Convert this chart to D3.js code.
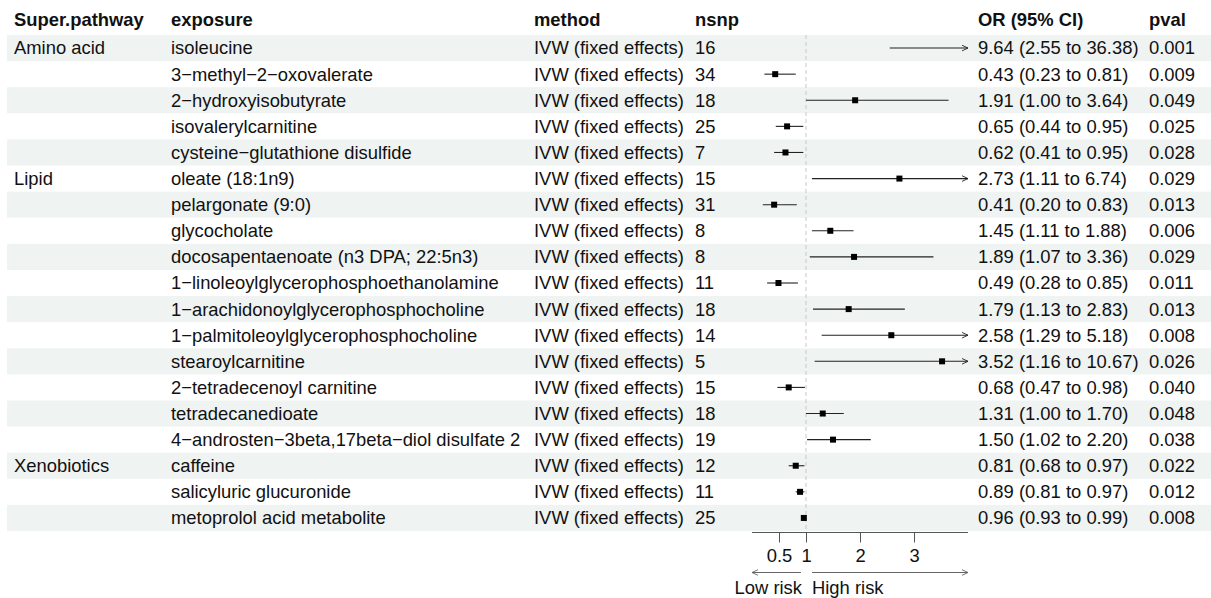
<!DOCTYPE html>
<html>
<head>
<meta charset="utf-8">
<script src="https://cdn.jsdelivr.net/npm/d3@7"></script>
<style>
  html, body { margin: 0; padding: 0; background: #fff; }
  svg text { font-family: "Liberation Sans", Arial, Helvetica, sans-serif; }
</style>
</head>
<body>
<svg id="chart" width="1211" height="598"></svg>
<script>
const pathway = ["Amino acid","","","","","Lipid","","","","","","","","","","","Xenobiotics","",""];
const exposure = ["isoleucine","3\u2212methyl\u22122\u2212oxovalerate","2\u2212hydroxyisobutyrate","isovalerylcarnitine","cysteine\u2212glutathione disulfide","oleate (18:1n9)","pelargonate (9:0)","glycocholate","docosapentaenoate (n3 DPA; 22:5n3)","1\u2212linoleoylglycerophosphoethanolamine","1\u2212arachidonoylglycerophosphocholine","1\u2212palmitoleoylglycerophosphocholine","stearoylcarnitine","2\u2212tetradecenoyl carnitine","tetradecanedioate","4\u2212androsten\u22123beta,17beta\u2212diol disulfate 2","caffeine","salicyluric glucuronide","metoprolol acid metabolite"];
const method = Array(19).fill("IVW (fixed effects)");
const nsnp = [16,34,18,25,7,15,31,8,8,11,18,14,5,15,18,19,12,11,25];
const orv = [9.64,0.43,1.91,0.65,0.62,2.73,0.41,1.45,1.89,0.49,1.79,2.58,3.52,0.68,1.31,1.50,0.81,0.89,0.96];
const lower = [2.55,0.23,1.00,0.44,0.41,1.11,0.20,1.11,1.07,0.28,1.13,1.29,1.16,0.47,1.00,1.02,0.68,0.81,0.93];
const upper = [36.38,0.81,3.64,0.95,0.95,6.74,0.83,1.88,3.36,0.85,2.83,5.18,10.67,0.98,1.70,2.20,0.97,0.97,0.99];
const pval = ["0.001","0.009","0.049","0.025","0.028","0.029","0.013","0.006","0.029","0.011","0.013","0.008","0.026","0.040","0.048","0.038","0.022","0.012","0.008"];
const headers = ["Super.pathway","exposure","method","nsnp","","OR (95% CI)","pval"];
const xTicks = [0.5, 1, 2, 3];
const xDomain = [0, 4];

const svg = d3.select("#chart");
const FS = "18.4px";
const n = exposure.length;
const rows = d3.range(n);

const y = d3.scaleBand().domain(rows).range([35, 531]).padding(0);
const x = d3.scaleLinear().domain(xDomain).range([752, 968]);
const colX = [14, 171, 534, 695, null, 978, 1149];

// defs
const defs = svg.append("defs");
defs.append("marker").attr("id","ah").attr("viewBox","0 0 10 10").attr("refX",9.5).attr("refY",5)
  .attr("markerWidth",7).attr("markerHeight",7).attr("markerUnits","userSpaceOnUse").attr("orient","auto")
  .append("path").attr("d","M1,1 L9.5,5 L1,9").attr("fill","none").attr("stroke","#222").attr("stroke-width",1.3);
defs.append("marker").attr("id","ah2").attr("viewBox","0 0 10 10").attr("refX",9.5).attr("refY",5)
  .attr("markerWidth",7).attr("markerHeight",7).attr("markerUnits","userSpaceOnUse").attr("orient","auto-start-reverse")
  .append("path").attr("d","M1,1 L9.5,5 L1,9").attr("fill","none").attr("stroke","#666").attr("stroke-width",1.3);

// stripes
svg.append("g").selectAll("rect").data(rows.filter(i => i % 2 === 0)).join("rect")
  .attr("x", 7).attr("width", 1204)
  .attr("y", i => y(i)).attr("height", y.bandwidth())
  .attr("fill", "#eff3f2");

// header
svg.append("g").selectAll("text").data(headers.map((h,i)=>({h, x: colX[i]})).filter(d => d.h))
  .join("text").attr("x", d => d.x).attr("y", 20).attr("dy","0.35em")
  .attr("font-size", FS).attr("font-weight","bold").attr("fill","#111").text(d => d.h);

// table text columns
const cols = [
  {vals: pathway, x: colX[0]},
  {vals: exposure, x: colX[1]},
  {vals: method, x: colX[2]},
  {vals: nsnp.map(String), x: colX[3]},
  {vals: rows.map(i => `${orv[i].toFixed(2)} (${lower[i].toFixed(2)} to ${upper[i].toFixed(2)})`), x: colX[5]},
  {vals: pval, x: colX[6]}
];
cols.forEach(c => {
  svg.append("g").selectAll("text").data(rows).join("text")
    .attr("x", c.x).attr("y", i => y(i) + y.bandwidth()/2).attr("dy","0.35em")
    .attr("font-size", FS).attr("fill","#111").text(i => c.vals[i]);
});

// reference line
svg.append("line").attr("x1", x(1)).attr("x2", x(1)).attr("y1", 35).attr("y2", 531)
  .attr("stroke","#c8c8c8").attr("stroke-dasharray","4,3").attr("stroke-width",1);

// CI lines
const [dmin, dmax] = xDomain;
const g = svg.append("g");
rows.forEach(i => {
  const cy = y(i) + y.bandwidth()/2;
  const lo = Math.max(lower[i], dmin), hi = Math.min(upper[i], dmax);
  g.append("line").attr("x1", x(lo)).attr("x2", x(hi)).attr("y1", cy).attr("y2", cy)
    .attr("stroke","#222").attr("stroke-width",1.1)
    .attr("marker-end", upper[i] > dmax ? "url(#ah)" : null);
  if (orv[i] <= dmax) {
    const s = 6;
    g.append("rect").attr("x", x(orv[i]) - s/2).attr("y", cy - s/2).attr("width", s).attr("height", s).attr("fill","#000");
  }
});

// axis
const axis = d3.axisBottom(x).tickValues(xTicks).tickSize(10).tickPadding(6).tickFormat(d3.format("~g"));
const ag = svg.append("g").attr("transform","translate(0,532.5)").call(axis);
ag.select(".domain").attr("stroke","#555").attr("d", `M${x(dmin)},0H${x(dmax)}`);
ag.selectAll(".tick line").attr("stroke","#555");
ag.selectAll(".tick text").attr("font-size", FS).attr("fill","#111")
  .attr("font-family", '"Liberation Sans", Arial, sans-serif');

// low/high risk arrows
svg.append("line").attr("x1", x(1) - 5).attr("x2", x(dmin)).attr("y1", 572.5).attr("y2", 572.5)
  .attr("stroke","#666").attr("stroke-width",1).attr("marker-end","url(#ah2)");
svg.append("line").attr("x1", x(1) + 6).attr("x2", x(dmax)).attr("y1", 572.5).attr("y2", 572.5)
  .attr("stroke","#666").attr("stroke-width",1).attr("marker-end","url(#ah2)");
svg.append("text").attr("x", x(1) - 4).attr("y", 588).attr("dy","0.35em").attr("text-anchor","end")
  .attr("font-size", FS).attr("fill","#111").text("Low risk");
svg.append("text").attr("x", x(1) + 6).attr("y", 588).attr("dy","0.35em")
  .attr("font-size", FS).attr("fill","#111").text("High risk");
</script>
</body>
</html>
